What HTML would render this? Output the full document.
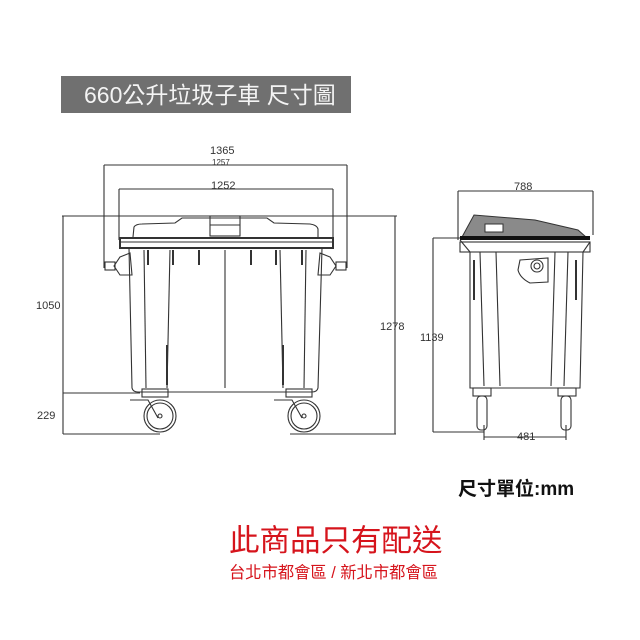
<!DOCTYPE html>
<html><head><meta charset="utf-8"><style>
html,body{margin:0;padding:0;background:#fff;width:640px;height:640px;overflow:hidden}
svg{position:absolute;left:0;top:0}
.t{font-family:"Liberation Sans","Noto Sans CJK TC",sans-serif}
</style></head><body>
<svg width="640" height="640" viewBox="0 0 640 640" xmlns="http://www.w3.org/2000/svg">
<rect x="61" y="76" width="290" height="37" fill="#707070"/>
<text x="84" y="103" class="t" font-size="23" fill="#f4f4f4">660公升垃圾子車 尺寸圖</text>

<g stroke="#333" stroke-width="1.1" fill="none">
<line x1="104" y1="165" x2="347" y2="165"/>
<line x1="104" y1="165" x2="104" y2="268"/>
<line x1="347" y1="165" x2="347" y2="268"/>
<line x1="119" y1="189" x2="333" y2="189"/>
<line x1="119" y1="189" x2="119" y2="240"/>
<line x1="333" y1="189" x2="333" y2="240"/>
<line x1="62" y1="216" x2="397" y2="216"/>
<line x1="63" y1="216" x2="63" y2="434"/>
<line x1="63" y1="393" x2="140" y2="393"/>
<line x1="63" y1="434" x2="160" y2="434"/>
<line x1="290" y1="434" x2="396" y2="434"/>
<line x1="395" y1="216" x2="395" y2="434"/>
<path d="M133 237 L134 227 Q136 224 142 224 L175 223 L182 218 L267 218 L274 223 L310 224 Q317 225 318 229 L318 237"/>
<rect x="210" y="216" width="30" height="20"/>
<line x1="210" y1="225" x2="240" y2="225"/>
<rect x="120" y="238" width="213" height="10" stroke-width="2"/>
<line x1="120" y1="242" x2="333" y2="242"/>
<path d="M129 248 L132 388 Q133 392 138 392 L312 392 Q317 392 318 388 L322 248"/>
<line x1="144" y1="250" x2="146" y2="388"/>
<line x1="170" y1="250" x2="167" y2="388"/>
<line x1="225" y1="250" x2="225" y2="388"/>
<line x1="280" y1="250" x2="283" y2="388"/>
<line x1="306" y1="250" x2="304" y2="388"/>
<line x1="148" y1="250" x2="148" y2="265" stroke-width="2"/>
<line x1="173" y1="250" x2="173" y2="265" stroke-width="2"/>
<line x1="199" y1="250" x2="199" y2="265" stroke-width="2"/>
<line x1="251" y1="250" x2="251" y2="265" stroke-width="2"/>
<line x1="276" y1="250" x2="276" y2="265" stroke-width="2"/>
<line x1="302" y1="250" x2="302" y2="265" stroke-width="2"/>
<line x1="167" y1="345" x2="167" y2="385" stroke-width="2"/>
<line x1="283" y1="345" x2="283" y2="385" stroke-width="2"/>
<path d="M120 257 L130 253 L132 275 L120 275 L114 266 Z"/>
<rect x="105" y="262" width="10" height="8"/>
<path d="M330 257 L320 253 L318 275 L330 275 L336 266 Z"/>
<rect x="336" y="262" width="10" height="8"/>
<rect x="142" y="389" width="26" height="8"/>
<rect x="286" y="389" width="26" height="8"/>
<path d="M130 400 L148 400 L158 418"/>
<path d="M274 400 L292 400 L302 418"/>
<circle cx="160" cy="416" r="16"/>
<circle cx="160" cy="416" r="13"/>
<circle cx="160" cy="416" r="2"/>
<circle cx="304" cy="416" r="16"/>
<circle cx="304" cy="416" r="13"/>
<circle cx="304" cy="416" r="2"/>

<line x1="458" y1="191" x2="593" y2="191"/>
<line x1="458" y1="191" x2="458" y2="240"/>
<line x1="593" y1="191" x2="593" y2="235"/>
<line x1="433" y1="238" x2="462" y2="238"/>
<line x1="433" y1="238" x2="433" y2="432"/>
<line x1="433" y1="432" x2="484" y2="432"/>
<line x1="484" y1="425" x2="484" y2="440"/>
<line x1="566" y1="425" x2="566" y2="440"/>
<line x1="484" y1="437" x2="566" y2="437"/>
<path d="M460 240 L470 252 L470 388 L580 388 L583 252 L590 242" />
<rect x="460" y="242" width="130" height="10"/>
<line x1="480" y1="252" x2="484" y2="386"/>
<line x1="496" y1="252" x2="500" y2="386"/>
<line x1="555" y1="252" x2="551" y2="386"/>
<line x1="568" y1="252" x2="564" y2="386"/>
<line x1="474" y1="260" x2="474" y2="300" stroke-width="2"/>
<line x1="576" y1="260" x2="576" y2="300" stroke-width="2"/>
<path d="M520 260 L548 258 L548 282 L530 283 Q520 278 518 270 Z"/>
<circle cx="537" cy="266" r="6"/>
<circle cx="537" cy="266" r="3"/>
<rect x="473" y="388" width="18" height="8"/>
<rect x="558" y="388" width="18" height="8"/>
<rect x="477" y="396" width="10" height="34" rx="4"/>
<rect x="561" y="396" width="10" height="34" rx="4"/>
</g>
<path d="M462 237 L474 215 L535 220 L578 230 L586 237 Z" fill="#8a8a8a" stroke="#333"/>
<rect x="460" y="236" width="130" height="4" fill="#111"/>
<rect x="485" y="224" width="18" height="8" fill="#fff" stroke="#333"/>

<g class="t" fill="#333" font-size="11">
<text x="210" y="154">1365</text>
<text x="212" y="165" font-size="8">1257</text>
<text x="211" y="189">1252</text>
<text x="36" y="309">1050</text>
<text x="37" y="419">229</text>
<text x="380" y="330">1278</text>
<text x="420" y="341">1139</text>
<text x="514" y="190">788</text>
<text x="517" y="440">481</text>
</g>
<text x="458" y="495" class="t" font-size="19" font-weight="bold" fill="#111">尺寸單位:mm</text>
<text x="229" y="551" class="t" font-size="30.5" fill="#d6141c">此商品只有配送</text>
<text x="229" y="578" class="t" font-size="16.3" fill="#d6141c">台北市都會區 / 新北市都會區</text>
</svg>
</body></html>
